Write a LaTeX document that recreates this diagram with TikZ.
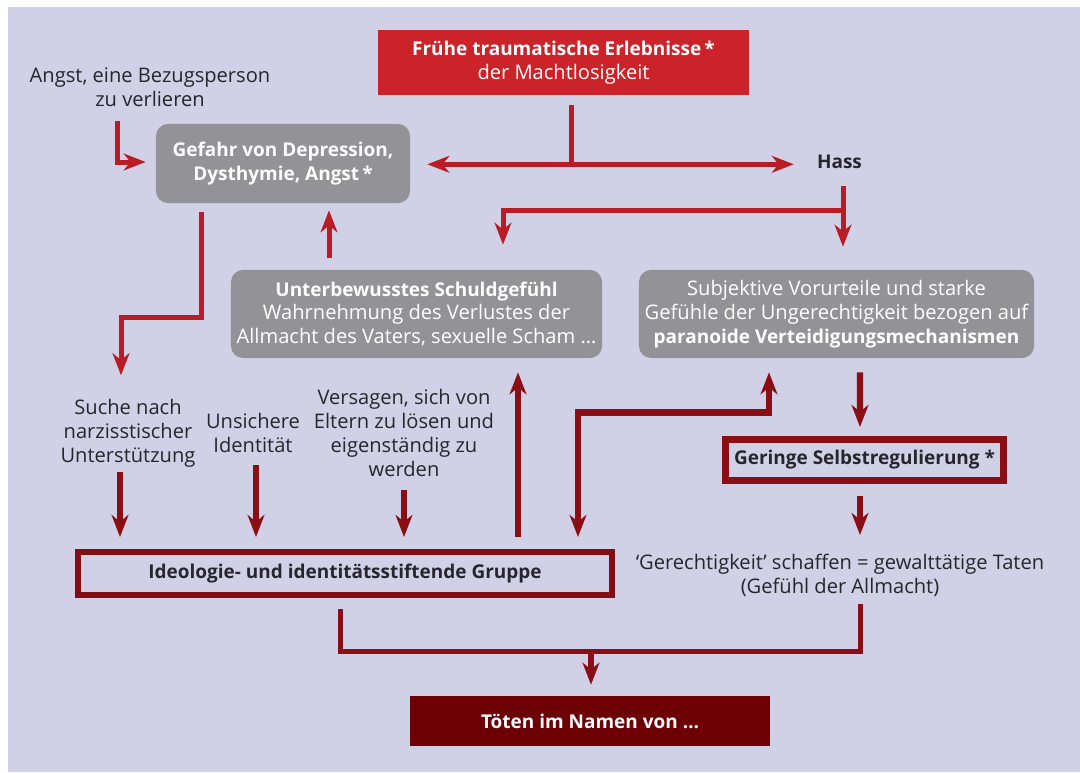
\documentclass[tikz,border=0pt]{standalone}
\usepackage{fontspec}
\setmainfont{Open Sans}
\usetikzlibrary{arrows.meta, calc, positioning}
\definecolor{bglila}{RGB}{208, 209, 230}
\definecolor{traumared}{RGB}{204, 34, 41}
\definecolor{pfeilred}{RGB}{185, 28, 36}
\definecolor{dunkelred}{RGB}{139, 14, 20}
\definecolor{toetenred}{RGB}{108, 0, 4}
\definecolor{boxgray}{RGB}{147, 147, 151}
\definecolor{textdark}{RGB}{38, 38, 44}
\newcommand{\fett}[1]{{\fontsize{13.5}{17}\selectfont\bfseries #1}}

\begin{document}
\begin{tikzpicture}[
        x=0.025cm, y=-0.025cm, % Koordinaten in Pixeln
        >={Stealth[length=0.55cm, width=0.42cm, inset=0.17cm]},
        txt/.style={align=center, inner sep=0pt, text=textdark, font=\fontsize{14.3}{17}\selectfont},
        box/.style={txt, fill=boxgray, rounded corners=0.3cm, text=white},
        redbox/.style={txt, fill=traumared, text=white},
        framebox/.style={txt, draw=dunkelred, line width=0.175cm},
        arrow/.style={->, line width=0.125cm, pfeilred},
        darkarrow/.style={->, line width=0.16cm, dunkelred},
        darkline/.style={line width=0.125cm, dunkelred}
    ]

        % Hintergrund
        \useasboundingbox (0,0) rectangle (1080,772);
        \fill[white] (0,0) rectangle (1080,772);
        \fill[bglila] (8,7) rectangle (1080,772);

        % --- OBEN ---
        \node[redbox, minimum width=9.275cm, minimum height=1.625cm] (frueh) at (563.5,62.5)
            {\fett{Frühe traumatische Erlebnisse\,*}\\der Machtlosigkeit};
        \node[txt] (angst) at (150,87) {Angst, eine Bezugsperson\\zu verlieren};
        \node[box, minimum width=6.35cm, minimum height=1.975cm] (gefahr) at (283,163.5)
            {\fett{Gefahr von Depression,}\\\fett{Dysthymie, Angst\,*}};
        \node[txt] (hass) at (839.5,162) {\fett{Hass}};

        % --- MITTE ---
        \node[box, minimum width=9.275cm, minimum height=2.2cm] (schuld) at (416.5,314)
            {\fett{Unterbewusstes Schuldgefühl}\\Wahrnehmung des Verlustes der\\Allmacht des Vaters, sexuelle Scham …};
        \node[box, minimum width=9.875cm, minimum height=2.2cm] (vorurteil) at (836.5,314)
            {Subjektive Vorurteile und starke\\Gefühle der Ungerechtigkeit bezogen auf\\\fett{paranoide Verteidigungsmechanismen}};

        % --- UNTEN ---
        \node[txt] (suche) at (128,433) {Suche nach\\narzisstischer\\Unterstützung};
        \node[txt] (unsicher) at (253,433) {Unsichere\\Identität};
        \node[txt] (versagen) at (404,433) {Versagen, sich von\\Eltern zu lösen und\\eigenständig zu\\werden};
        \node[framebox, minimum width=6.95cm, minimum height=1.025cm] (geringe) at (864.5,460)
            {\fett{Geringe Selbstregulierung *}};
        \node[txt] (gerecht) at (840,575) {‘Gerechtigkeit’ schaffen = gewalttätige Taten\\(Gefühl der Allmacht)};
        \node[framebox, line width=0.15cm, draw=dunkelred!95!black, minimum width=13.35cm, minimum height=1.075cm] (ideologie) at (345,573.5)
            {\fett{Ideologie- und identitätsstiftende Gruppe}};
        \node[redbox, fill=toetenred, minimum width=9cm, minimum height=1.25cm] (toeten) at (590,721)
            {\fett{Töten im Namen von …}};

        % Pfeile oben
        \draw[arrow] ($(angst.south |- gefahr.north)+(-33,-3)$) |- ($(gefahr.west)+(-10,-1.5)$);
        \coordinate (split) at ($(frueh.south)+(7.5,69)$);
        \draw[arrow, -] ($(frueh.south)+(7.5,10)$) -- (split);
        \draw[arrow, <->] ($(gefahr.east |- split)+(17,0)$) -- ($(hass.west |- split)+(-23,0)$);
        \draw[arrow] ($(hass |- split)+(3.5,22)$) -- ($(hass |- vorurteil.north)+(3.5,-23)$);
        \coordinate (hbranch) at ($(hass |- split)+(3.5,46)$);
        \draw[arrow] (hbranch) -| ($(schuld.north)+(86.5,-25)$);
        \draw[arrow] ($(schuld.north)+(-87.5,-12)$) -- ($(schuld.north |- gefahr.south)+(-87.5,7)$);
        \draw[arrow] ($(gefahr.south)+(-82,9)$) -- ++(0,105) -| ($(suche |- schuld.south)+(-7,17)$);

        % Pfeile unten
        \draw[darkarrow] ($(suche |- ideologie.north)+(-8,-77)$) -- ($(suche |- ideologie.north)+(-8,-12)$);
        \draw[darkarrow] ($(unsicher |- ideologie.north)+(3,-84)$) -- ($(unsicher |- ideologie.north)+(3,-12)$);
        \draw[darkarrow] ($(versagen |- ideologie.north)+(0,-59)$) -- ($(versagen |- ideologie.north)+(0,-12)$);
        \draw[darkarrow] ($(ideologie.north -| schuld.south)+(101.5,-12)$) -- ($(schuld.south)+(101.5,14)$);
        \draw[darkarrow, <->] ($(ideologie.north)+(233,-12)$) |- ($(vorurteil.south)+(-67.5,54)$)
            -- ($(vorurteil.south)+(-67.5,14)$);
        \draw[darkarrow] ($(vorurteil.south)+(23.5,14)$) -- ($(geringe.north)+(-4.5,-9)$);
        \draw[darkarrow] ($(geringe.south)+(-4.5,12)$) -- ($(geringe.south)+(-4.5,51)$);
        \draw[darkline] ($(ideologie.south)+(-5,11)$) |- ($(toeten.north)+(270,-44)$) -- ++(0,-48);
        \draw[darkarrow] ($(toeten.north)+(1,-44)$) -- ($(toeten.north)+(1,-11)$);
    \end{tikzpicture}
\end{document}
